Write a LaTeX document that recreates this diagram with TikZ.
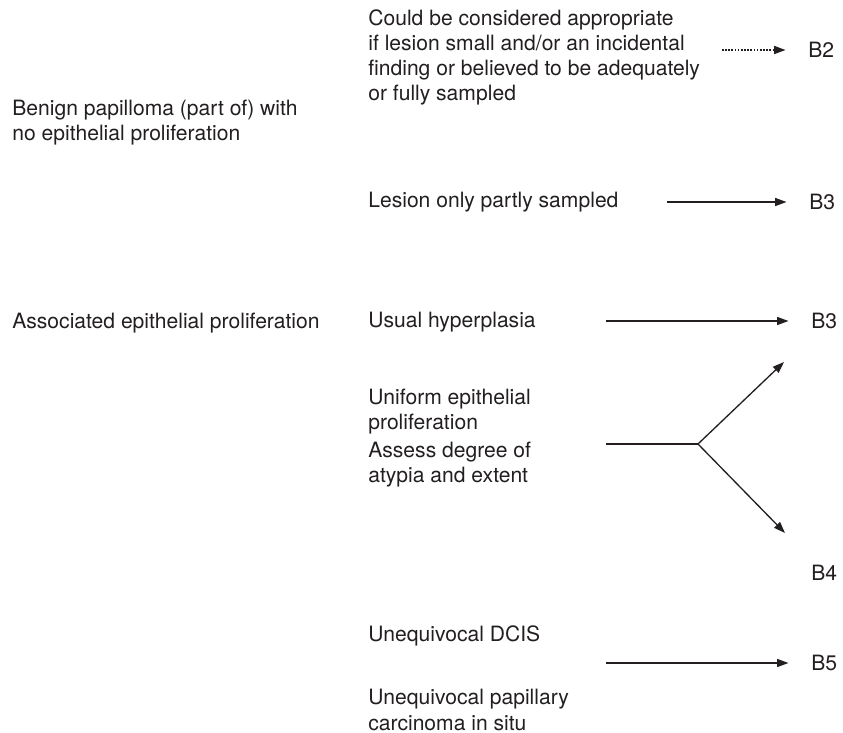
\documentclass[tikz,border=0pt]{standalone}
\usepackage{fontspec}
\setmainfont{TeX Gyre Heros}
\usepackage{xcolor}
\usetikzlibrary{arrows.meta,positioning,calc}

\definecolor{inkgray}{HTML}{231F20}

\begin{document}
\begin{tikzpicture}[
    x=0.02cm, y=-0.02cm,
    >={Triangle[length=6.5pt,width=4.6pt]},
    txtbox/.style={anchor=base west, inner sep=0pt, align=left, text=inkgray, font=\fontsize{12}{14.3}\selectfont},
    gradebox/.style={anchor=west, inner sep=0pt, text=inkgray, font=\fontsize{12}{14.3}\selectfont},
    arrow/.style={->, line width=0.75pt, color=inkgray, shorten >=4.5mm},
    dotarrow/.style={->, line width=0.75pt, color=inkgray, dash pattern=on 0.9pt off 0.9pt, shorten >=4.5mm},
    plainline/.style={line width=0.75pt, color=inkgray}
]
    \useasboundingbox (0,0) rectangle (843,733);

    % left column (base = last line)
    \node[txtbox] (benign) at (12,141) {Benign papilloma (part of) with\\no epithelial proliferation};
    \node[txtbox] (assoc) at (12,329) {Associated epithelial proliferation};

    % middle column
    \node[txtbox] (approp) at (368,101) {Could be considered appropriate\\if lesion small and/or an incidental\\finding or believed to be adequately\\or fully sampled};
    \node[txtbox] (partly) at (368,208) {Lesion only partly sampled};
    \node[txtbox] (usual) at (368,328) {Usual hyperplasia};
    \node[txtbox] (uniform) at (368,483) {Uniform epithelial\\proliferation\\[1.6pt]Assess degree of\\atypia and extent};
    \node[txtbox] (dcis) at (368,642) {Unequivocal DCIS};
    \node[txtbox] (papca) at (368,730) {Unequivocal papillary\\carcinoma in situ};

    % grades
    \node[gradebox] (b2) at (808,50) {B2};
    \node[gradebox] (b3a) at (809,202) {B3};
    \node[gradebox] (b3b) at (811,321) {B3};
    \node[gradebox] (b4) at (811,573) {B4};
    \node[gradebox] (b5) at (811,663) {B5};

    % arrow start points
    \coordinate (s2) at (722,50);
    \coordinate (s3a) at (667,202);
    \coordinate (s3b) at (606,321);
    \coordinate (s5) at (606,663);
    \coordinate (fork0) at (606,444);
    \coordinate (fork) at (698,444);
    \coordinate (up) at (784,362);
    \coordinate (down) at (785,533);

    \draw[dotarrow] (s2) -- (b2.west);
    \draw[arrow] (s3a) -- (b3a.west);
    \draw[arrow] (s3b) -- (b3b.west);
    \draw[arrow] (s5) -- (b5.west);

    \draw[plainline] (fork0) -- (fork);
    \draw[plainline, ->] (fork) -- (up);
    \draw[plainline, ->] (fork) -- (down);
\end{tikzpicture}
\end{document}
